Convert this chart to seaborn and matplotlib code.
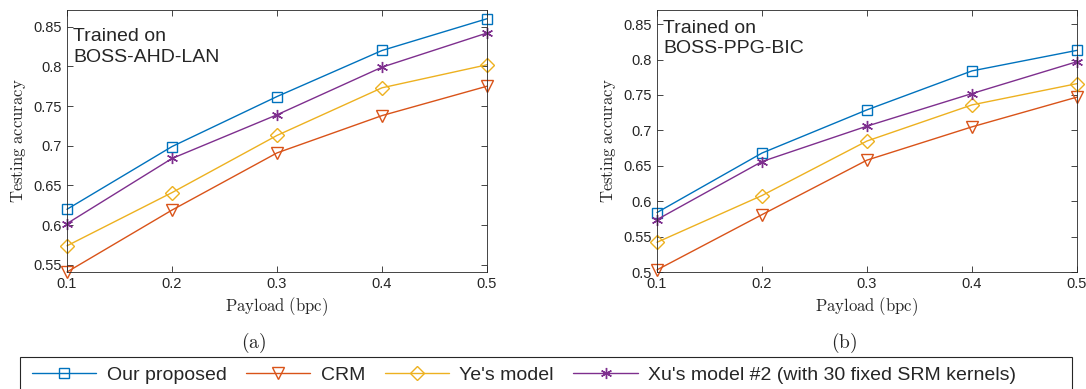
import numpy as np
import pandas as pd
import matplotlib
matplotlib.use("Agg")
import matplotlib.pyplot as plt
import seaborn as sns
from matplotlib.patches import Rectangle
from matplotlib.lines import Line2D

# ── Data ──────────────────────────────────────────────────────────────────────
payload = [0.1, 0.2, 0.3, 0.4, 0.5]
methods = ["Our proposed", "CRM", "Ye's model",
           "Xu's model #2 (with 30 fixed SRM kernels)"]

# (a) trained on BOSS-AHD-LAN
ahd_ours = [0.620, 0.699, 0.762, 0.820, 0.860]
ahd_crm = [0.541, 0.619, 0.691, 0.738, 0.775]
ahd_ye = [0.574, 0.641, 0.713, 0.773, 0.802]
ahd_xu = [0.602, 0.684, 0.739, 0.799, 0.842]

# (b) trained on BOSS-PPG-BIC
ppg_ours = [0.584, 0.668, 0.729, 0.784, 0.813]
ppg_crm = [0.503, 0.581, 0.658, 0.705, 0.747]
ppg_ye = [0.542, 0.608, 0.685, 0.736, 0.766]
ppg_xu = [0.574, 0.656, 0.706, 0.752, 0.797]

a_ticks = [0.55, 0.6, 0.65, 0.7, 0.75, 0.8, 0.85]
b_ticks = [0.5, 0.55, 0.6, 0.65, 0.7, 0.75, 0.8, 0.85]

COLORS = ["#0072BD", "#D95319", "#EDB120", "#7E2F8E"]
MARKERS = ["s", "v", "D", (6, 2, 0)]
MSIZE = [7, 9, 7, 8]


def long_frame(series):
    rows = []
    for name, vals in zip(methods, series):
        for x, y in zip(payload, vals):
            rows.append({"payload": x, "acc": y, "method": name})
    return pd.DataFrame(rows)


sns.set_style("ticks")
plt.rcParams["font.family"] = ["Liberation Sans", "DejaVu Sans"]
plt.rcParams["mathtext.fontset"] = "cm"

fig = plt.figure(figsize=(10.86, 3.89), dpi=100)
ax_a = fig.add_axes([67 / 1086, 1 - 272 / 389, 420 / 1086, 262 / 389])
ax_b = fig.add_axes([657 / 1086, 1 - 272 / 389, 420 / 1086, 262 / 389])

panels = [
    (ax_a, [ahd_ours, ahd_crm, ahd_ye, ahd_xu], (0.541, 0.871), a_ticks,
     "Trained on\nBOSS-AHD-LAN", 0.93, "(a)"),
    (ax_b, [ppg_ours, ppg_crm, ppg_ye, ppg_xu], (0.5, 0.87), b_ticks,
     "Trained on\nBOSS-PPG-BIC", 0.962, "(b)"),
]

for ax, series, ylim, yticks, note, note_y, tag in panels:
    df = long_frame(series)
    # seaborn won't mix filled/line markers, so the asterisk is swapped in after
    sns.lineplot(data=df, x="payload", y="acc", hue="method", style="method",
                 palette=COLORS, markers=["s", "v", "D", "o"], dashes=False,
                 linewidth=1.0, legend=False, ax=ax)
    for line, c, m, ms in zip(ax.lines, COLORS, MARKERS, MSIZE):
        line.set_marker(m)
        line.set_markeredgecolor(c)
        line.set_markerfacecolor("none")
        line.set_markeredgewidth(1.0)
        line.set_markersize(ms)
        line.set_clip_on(False)

    ax.set_xlim(0.1, 0.5)
    ax.set_ylim(*ylim)
    ax.set_xticks(payload)
    ax.set_xticklabels([f"{v:g}" for v in payload])
    ax.set_yticks(yticks)
    ax.set_yticklabels([f"{v:g}" for v in yticks])
    ax.tick_params(direction="in", top=True, right=True, length=4,
                   width=0.6, labelsize=10.5, colors="#262626")
    for sp in ax.spines.values():
        sp.set_visible(True)
        sp.set_linewidth(0.6)
        sp.set_color("#262626")

    ax.set_xlabel(r"$\mathrm{Payload\ (bpc)}$", fontsize=12, labelpad=3)
    ax.set_ylabel(r"$\mathrm{Testing\ accuracy}$", fontsize=12, labelpad=4)
    ax.text(0.014, note_y, note, transform=ax.transAxes, fontsize=14,
            va="top", ha="left", linespacing=1.25)
    ax.text(0.445, -0.271, r"$\mathrm{" + tag + "}$", transform=ax.transAxes,
            fontsize=14, ha="center", va="center")

# ── Shared legend along the bottom ────────────────────────────────────────────
handles = [Line2D([], [], color=c, marker=m, markersize=ms, mfc="none",
                  mec=c, mew=1.0, linewidth=1.0)
           for c, m, ms in zip(COLORS, MARKERS, MSIZE)]
fig.legend(handles, methods, loc="center left",
           bbox_to_anchor=(24 / 1086, 1 - 375 / 389), ncol=4, frameon=False,
           fontsize=14, handlelength=3.3, handletextpad=0.55,
           columnspacing=1.0, borderaxespad=0)
fig.patches.append(Rectangle((20 / 1086, -0.05), 1052 / 1086, 0.05 + 32 / 389,
                             transform=fig.transFigure, fill=False,
                             edgecolor="#262626", linewidth=0.8))

fig.savefig("out.png", dpi=100)
